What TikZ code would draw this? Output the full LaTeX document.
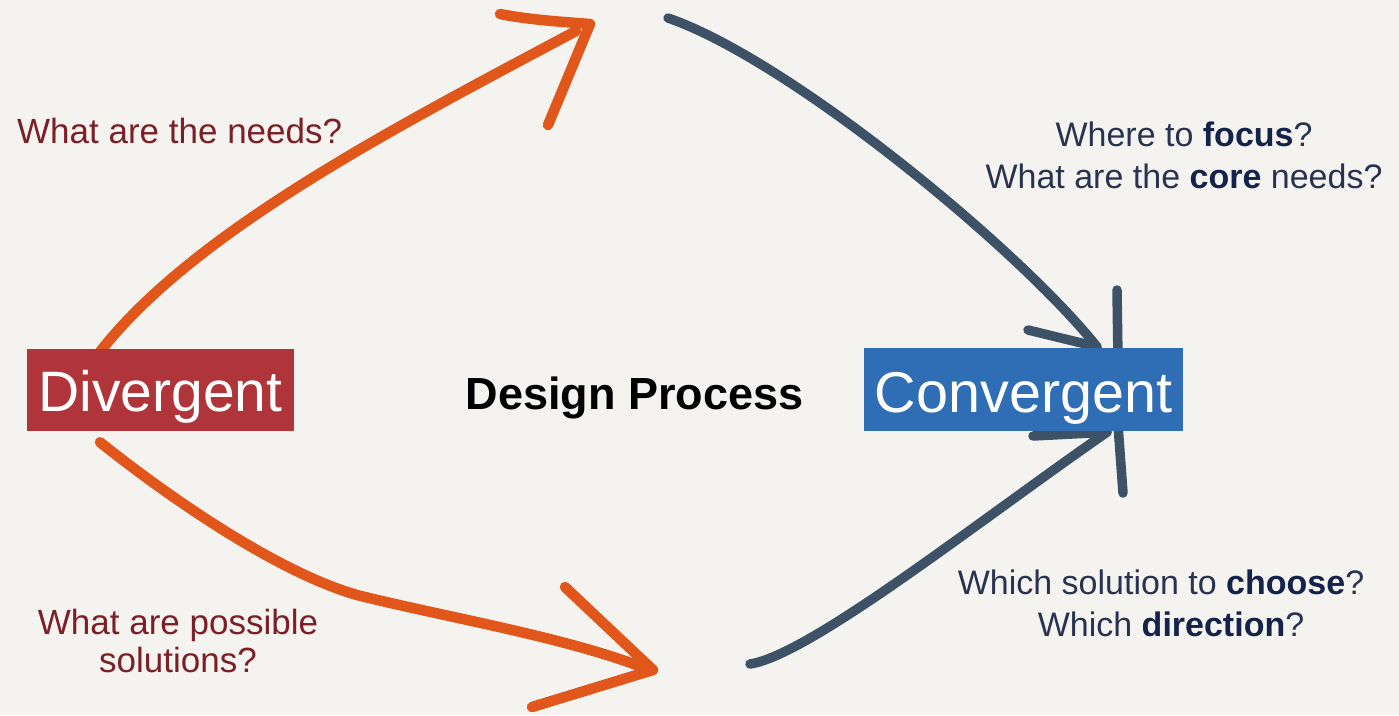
\documentclass[tikz,border=0pt]{standalone}
\usepackage{fontspec}
\setmainfont{Liberation Sans}
\pgfdeclarelayer{back}
\pgfdeclarelayer{mid}
\pgfsetlayers{back,mid,main}
\definecolor{bgc}{HTML}{F4F3EF}
\definecolor{orangec}{HTML}{E0561B}
\definecolor{navyc}{HTML}{3D5266}
\definecolor{redbox}{HTML}{B0353A}
\definecolor{bluebox}{HTML}{2F6EB4}
\definecolor{redtxt}{HTML}{7A2026}
\definecolor{navytxt}{HTML}{28334F}
\definecolor{navybold}{HTML}{14234A}
\newcommand\navyb[1]{{\color{navybold}\bfseries #1}}
\begin{document}
\begin{tikzpicture}[x=1pt,y=-1pt,
  orangearr/.style={draw=orangec, line width=10.5pt, line cap=round, line join=round},
  navyarr/.style={draw=navyc, line width=9.5pt, line cap=round, line join=round},
  boxnode/.style={inner sep=0pt, text=white, text depth=0pt},
  qred/.style={text=redtxt, font=\fontsize{35}{40}\selectfont, inner sep=0pt},
  qnavy/.style={text=navytxt, font=\fontsize{34}{40}\selectfont, inner sep=0pt}]
\begin{pgfonlayer}{back}
\fill[bgc] (0,0) rectangle (1399,715);
\end{pgfonlayer}
\useasboundingbox (0,0) rectangle (1399,715);

% boxes
\node[boxnode, fill=redbox, minimum width=267pt, minimum height=82pt, text height=42pt,
      font=\fontsize{57}{60}\selectfont] (div) at (160.5,390) {Divergent};
\node[boxnode, fill=bluebox, minimum width=319pt, minimum height=83pt, text height=45pt,
      font=\fontsize{57.5}{60}\selectfont] (conv) at (1023.5,389.5) {Convergent};
\node[anchor=base, inner sep=0pt, font=\bfseries\fontsize{45}{50}\selectfont] (title) at (634.5,409) {Design Process};

% questions
\node[qred, anchor=base west] (q1) at (17,143) {What are the needs?};
\node[qred, anchor=base] (q2a) at (178,634) {What are possible};
\node[qred, anchor=base] (q2b) at (178,672) {solutions?};
\node[qnavy, anchor=base] (q3a) at (1184,146) {Where to \navyb{focus}?};
\node[qnavy, anchor=base] (q3b) at (1184,188) {What are the \navyb{core} needs?};
\node[qnavy, anchor=base] (q4a) at (1161,594) {Which solution to \navyb{choose}?};
\node[qnavy, anchor=base] (q4b) at (1171,636) {Which \navyb{direction}?};

% coordinates
\coordinate (o1s) at ([xshift=-60.5pt,yshift=-3pt]div.north);
\coordinate (o1e) at (576,31);
\coordinate (o1t) at (590,24);
\coordinate (o1b1) at (500,14);
\coordinate (o1b2) at (548,125);
\coordinate (o2s) at ([xshift=-60.5pt,yshift=-11pt]div.south);
\coordinate (o2m) at (357,595);
\coordinate (o2e) at (642,667);
\coordinate (o2t) at (653,670);
\coordinate (o2b1) at (565,587);
\coordinate (o2b2) at (532,707);
\coordinate (n1s) at (668,18);
\coordinate (n1t) at ([xshift=73.5pt,yshift=1pt]conv.north);
\coordinate (n1b1) at (1028,330);
\coordinate (n1b2) at (1117,290);
\coordinate (n1b3) at (1118,360);
\coordinate (n2s) at (750,664);
\coordinate (n2t) at ([xshift=83.5pt,yshift=-1pt]conv.south);
\coordinate (n2b1) at (1033,436);
\coordinate (n2b2) at (1118,425);
\coordinate (n2b3) at (1123,493);

\begin{pgfonlayer}{mid}
% upper orange
\draw[orangearr] (o1s) .. controls (195,230) and (400,125) .. (o1e);
\draw[orangearr] (o1b1) .. controls (530,20) and (565,22) .. (o1t) -- (o1b2);
% lower orange
\draw[orangearr] (o2s) .. controls (170,498) and (277,572) .. (o2m)
                      .. controls (445,617) and (560,636) .. (o2e);
\draw[orangearr] (o2b1) -- (o2t) -- (o2b2);
% upper navy
\draw[navyarr] (n1s) .. controls (790,60) and (1020,250) .. (n1t);
\draw[navyarr] (n1b1) -- (n1t);
\draw[navyarr] (n1b2) -- (n1b3);
% lower navy
\draw[navyarr] (n2s) .. controls (810,655) and (980,520) .. (n2t);
\draw[navyarr] (n2b1) -- (n2t);
\draw[navyarr] (n2b2) -- (n2b3);
\end{pgfonlayer}
\end{tikzpicture}
\end{document}
